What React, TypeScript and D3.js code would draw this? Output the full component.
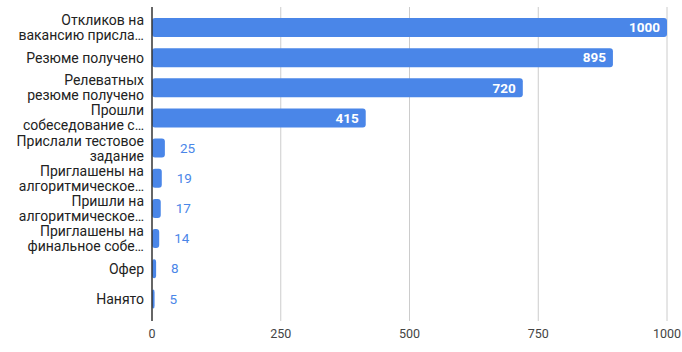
import { useEffect, useRef } from "react";
import * as d3 from "d3";

const categories = [
  "Откликов на\nвакансию присла…",
  "Резюме получено",
  "Релеватных\nрезюме получено",
  "Прошли\nсобеседование с…",
  "Прислали тестовое\nзадание",
  "Приглашены на\nалгоритмическое…",
  "Пришли на\nалгоритмическое…",
  "Приглашены на\nфинальное собе…",
  "Офер",
  "Нанято",
];
const values = [1000, 895, 720, 415, 25, 19, 17, 14, 8, 5];
const xTicks = [0, 250, 500, 750, 1000];

export default function App() {
  const svgRef = useRef<SVGSVGElement>(null);

  useEffect(() => {
    if (!svgRef.current) return;
    const svg = d3.select(svgRef.current);
    svg.selectAll("*").remove();

    const W = 682, H = 352;
    const left = 152, right = 667;
    const top = 7, bottom = 321;
    const font = "Roboto, Arial, sans-serif";
    const blue = "#4a86e8";

    const x = d3.scaleLinear().domain([0, 1000]).range([left, right]);
    const y = d3.scaleBand<number>()
      .domain(d3.range(categories.length))
      .range([12.4, 314])
      .paddingInner(0.37)
      .paddingOuter(0.185);

    svg.append("rect").attr("width", W).attr("height", H).attr("fill", "white");

    // grid
    svg.selectAll(".grid").data(xTicks.slice(1)).enter()
      .append("line")
      .attr("x1", (d) => x(d)).attr("x2", (d) => x(d))
      .attr("y1", top).attr("y2", bottom)
      .attr("stroke", "#cccccc").attr("stroke-width", 1);

    // bars
    svg.selectAll(".bar").data(values).enter()
      .append("rect")
      .attr("x", left)
      .attr("y", (_, i) => y(i)!)
      .attr("width", (d) => Math.max(x(d) - left, 2))
      .attr("height", y.bandwidth())
      .attr("rx", 3)
      .attr("fill", blue);

    // baseline
    svg.append("line")
      .attr("x1", left).attr("x2", left)
      .attr("y1", top).attr("y2", bottom)
      .attr("stroke", "#333333").attr("stroke-width", 1.5);

    // value labels
    svg.selectAll(".val").data(values).enter()
      .append("text")
      .attr("x", (d) => (d > 100 ? x(d) - 7 : x(d) + 15))
      .attr("y", (_, i) => y(i)! + y.bandwidth() / 2)
      .attr("dy", "0.35em")
      .attr("text-anchor", (d) => (d > 100 ? "end" : "start"))
      .attr("font-family", font)
      .attr("font-size", 13.5)
      .attr("font-weight", (d) => (d > 100 ? "bold" : "normal"))
      .attr("fill", (d) => (d > 100 ? "white" : blue))
      .text((d) => d);

    // category labels
    const labels = svg.selectAll(".cat").data(categories).enter()
      .append("text")
      .attr("text-anchor", "end")
      .attr("font-family", font)
      .attr("font-size", 14)
      .attr("fill", "#222222");
    labels.each(function (d, i) {
      const lines = d.split("\n");
      const cy = y(i)! + y.bandwidth() / 2;
      const lh = 15;
      const t = d3.select(this);
      lines.forEach((ln, k) => {
        t.append("tspan")
          .attr("x", 144)
          .attr("y", cy + (k - (lines.length - 1) / 2) * lh)
          .attr("dy", "0.35em")
          .text(ln);
      });
    });

    // x tick labels
    svg.selectAll(".tick").data(xTicks).enter()
      .append("text")
      .attr("x", (d) => x(d))
      .attr("y", 334)
      .attr("dy", "0.35em")
      .attr("text-anchor", "middle")
      .attr("font-family", font)
      .attr("font-size", 12.5)
      .attr("fill", "#444444")
      .text((d) => d);
  }, []);

  return (
    <div style={{ position: "absolute", left: 0, top: 0 }}>
      <svg ref={svgRef} width={682} height={352} />
    </div>
  );
}
